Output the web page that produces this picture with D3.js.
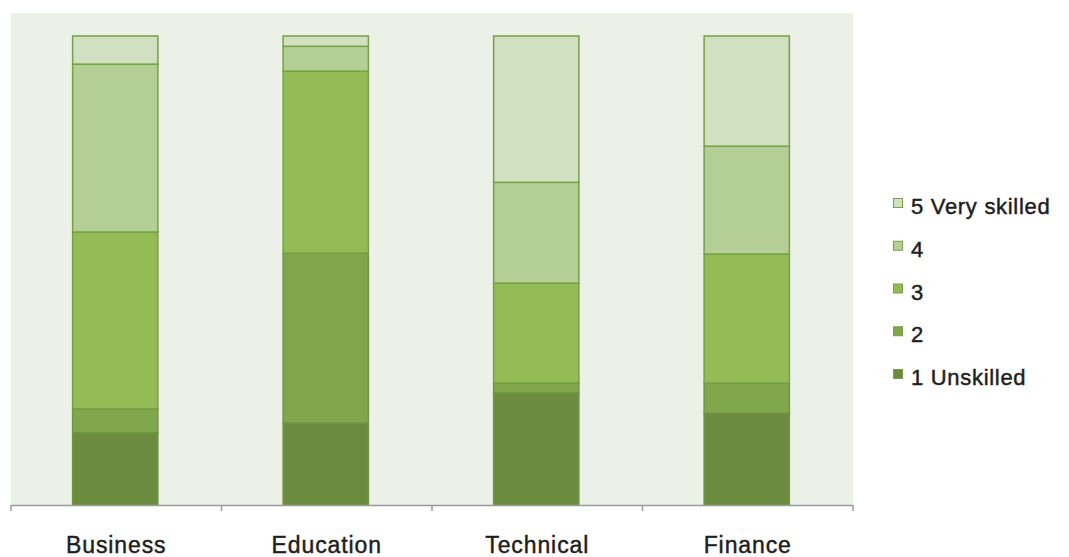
<!DOCTYPE html>
<html>
<head>
<meta charset="utf-8">
<script src="https://cdn.jsdelivr.net/npm/d3@7"></script>
<style>
  html, body { margin: 0; padding: 0; background: #fff; }
  svg { display: block; }
  text { font-family: "Liberation Sans", Arial, Helvetica, sans-serif; fill: #1e1e1e; stroke: #1e1e1e; stroke-width: 0.45px; }
</style>
</head>
<body>
<svg id="chart" width="1069" height="557"></svg>
<script>
const categories = ["Business", "Education", "Technical", "Finance"];
const seriesNames = ["1 Unskilled", "2", "3", "4", "5 Very skilled"];
// percentage share of each skill level, per category
const unskilled   = [15.4, 17.5, 23.9, 19.6];
const level2      = [5.1, 36.2, 2.1, 6.4];
const level3      = [37.7, 38.8, 21.3, 27.5];
const level4      = [35.8, 5.3, 21.5, 23.0];
const verySkilled = [6.0, 2.2, 31.2, 23.5];
const colors = ["#6b8c3e", "#80a74b", "#93bc57", "#b4cf96", "#d0e0c0"];

const seriesValues = [unskilled, level2, level3, level4, verySkilled];
const rows = categories.map((c, i) => {
  const r = { category: c };
  seriesNames.forEach((s, j) => r[s] = seriesValues[j][i]);
  return r;
});

const svg = d3.select("#chart");
const plot = { left: 11, right: 853, top: 13, bottom: 505 };

svg.append("rect")
  .attr("x", plot.left).attr("y", plot.top)
  .attr("width", plot.right - plot.left).attr("height", plot.bottom - plot.top)
  .attr("fill", "#ecf1e8");

const x = d3.scaleBand().domain(categories).range([plot.left, plot.right]).paddingInner(0).paddingOuter(0);
const barW = x.bandwidth() * 0.405;
const y = d3.scaleLinear().domain([0, 100]).range([plot.bottom, 36]);

const stack = d3.stack().keys(seriesNames);
const stacked = stack(rows);

const g = svg.append("g");
stacked.forEach((layer, j) => {
  g.selectAll(null).data(layer).enter().append("rect")
    .attr("x", d => x(d.data.category) + (x.bandwidth() - barW) / 2 - 1)
    .attr("y", d => y(d[1]))
    .attr("width", barW)
    .attr("height", d => y(d[0]) - y(d[1]))
    .attr("fill", colors[j])
    .attr("stroke", j >= 2 ? "#76a044" : "#6f9540")
    .attr("stroke-width", 1.5);
});

// axis line and ticks at band boundaries
const axisG = svg.append("g");
axisG.append("line")
  .attr("x1", plot.left).attr("x2", plot.right)
  .attr("y1", plot.bottom + 0.5).attr("y2", plot.bottom + 0.5)
  .attr("stroke", "#9a9a9a").attr("stroke-width", 1.5);
const boundaries = categories.map(c => x(c)).concat([x.range()[1]]);
axisG.selectAll(null).data(boundaries).enter().append("line")
  .attr("x1", d => d).attr("x2", d => d)
  .attr("y1", plot.bottom).attr("y2", plot.bottom + 6)
  .attr("stroke", "#9a9a9a").attr("stroke-width", 1.5);

axisG.selectAll(null).data(categories).enter().append("text")
  .attr("x", d => x(d) + x.bandwidth() / 2)
  .attr("y", 553)
  .attr("text-anchor", "middle")
  .attr("font-size", 23)
  .attr("letter-spacing", 0.9)
  .text(d => d);

// legend (top to bottom: 5 .. 1)
const legendItems = seriesNames.map((s, j) => ({ name: s, color: colors[j] })).reverse();
const legendY = d3.scalePoint().domain(legendItems.map(d => d.name)).range([214, 385]);
const lg = svg.append("g");
const li = lg.selectAll(null).data(legendItems).enter().append("g");
li.append("rect")
  .attr("x", 893.5).attr("y", d => legendY(d.name) - 15.5)
  .attr("width", 9).attr("height", 9)
  .attr("fill", d => d.color)
  .attr("stroke", "#7a9e4a").attr("stroke-width", 1);
li.append("text")
  .attr("x", 911).attr("y", d => legendY(d.name))
  .attr("font-size", 22)
  .attr("letter-spacing", 0.7)
  .text(d => d.name);
</script>
</body>
</html>
